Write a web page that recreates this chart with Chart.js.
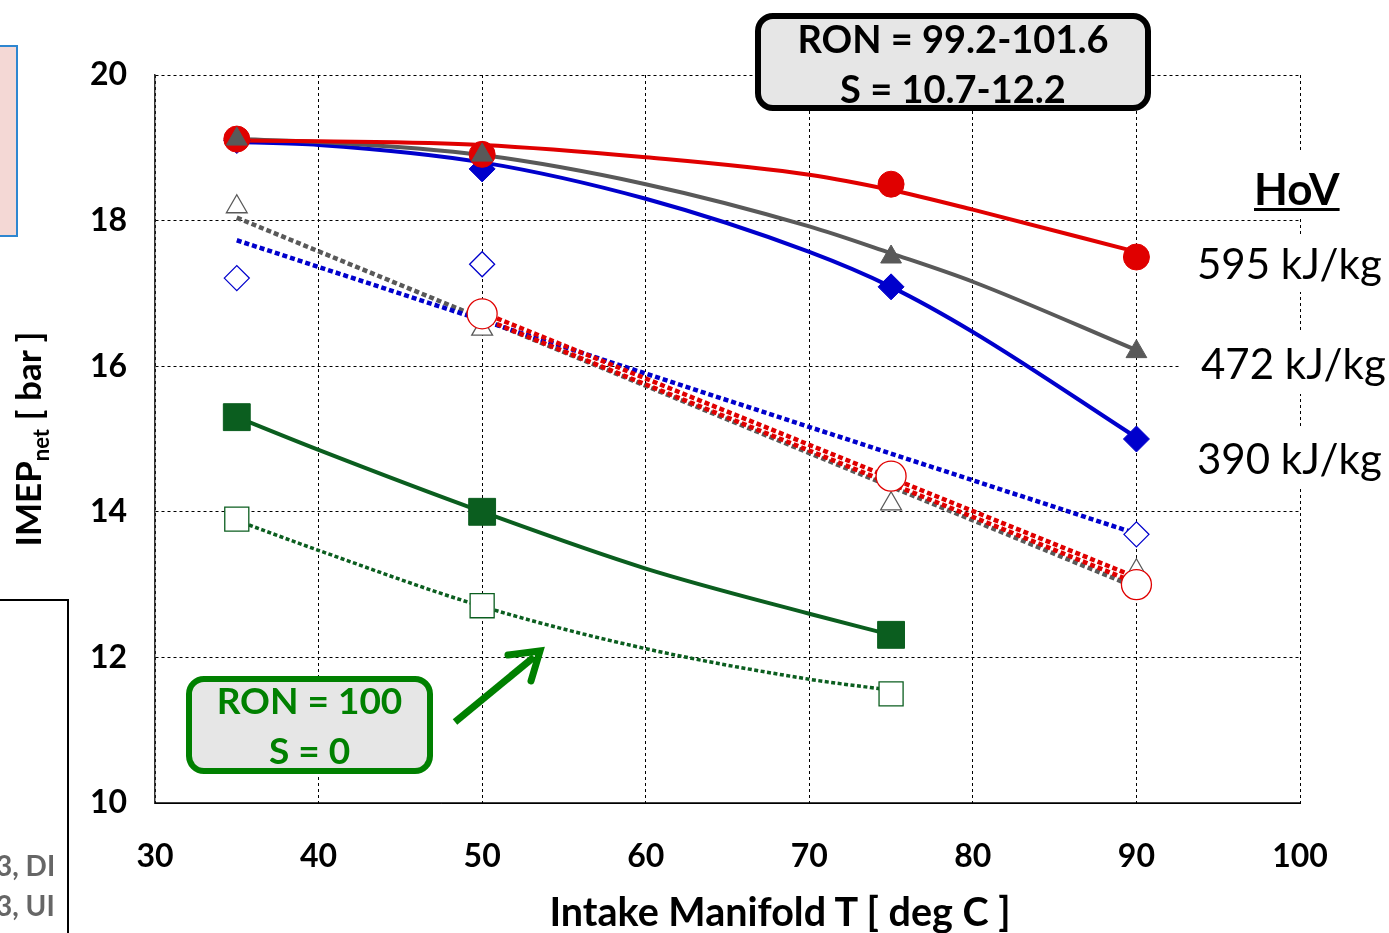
<!DOCTYPE html>
<html>
<head>
<meta charset="utf-8">
<script src="https://cdn.jsdelivr.net/npm/chart.js@4.4.1/dist/chart.umd.min.js"></script>
<style>
  html, body { margin:0; padding:0; background:#fff; }
  #wrap { position:relative; width:1389px; height:933px; overflow:hidden; font-family: Lato, "Open Sans", sans-serif; }
  #c { position:absolute; left:0; top:0; }
  .ov { position:absolute; }
  .box { box-sizing:border-box; background:#e6e6e6; border-radius:18px; text-align:center; font-weight:bold; }
  .box > div { position:relative; white-space:nowrap; }
</style>
</head>
<body>
<div id="wrap">
  <canvas id="c" width="1389" height="933"></canvas>

  <!-- partial slide elements at left -->
  <div class="ov" style="left:-10px;top:45px;width:28px;height:192px;background:#f4d8d5;border:2px solid #2e86d0;box-sizing:border-box;"></div>
  <div class="ov" style="left:-5px;top:599px;width:74px;height:340px;border-top:2px solid #000;border-right:2px solid #000;box-sizing:border-box;"></div>
  <div class="ov" style="left:-4px;top:845px;font-weight:bold;font-size:28px;color:#666;line-height:40px;white-space:nowrap;">3, DI<br>3, UI</div>

  <!-- Y axis title -->
  <div class="ov" style="left:30px;top:439px;width:0;height:0;">
    <div style="position:absolute;left:0;top:0;transform:translate(-50%,-50%) rotate(-90deg);white-space:nowrap;font-weight:bold;font-size:35px;color:#000;">IMEP<sub style="font-size:22px;">net</sub> [ bar ]</div>
  </div>

  <!-- X axis title -->
  <div class="ov" style="left:780px;top:910px;width:0;height:0;">
    <div style="position:absolute;left:0;top:0;transform:translate(-50%,-50%);white-space:nowrap;font-weight:bold;font-size:39.5px;color:#000;">Intake Manifold T [ deg C ]</div>
  </div>

  <!-- RON box -->
  <div class="ov box" style="left:755px;top:13px;width:396px;height:98px;border:6px solid #000;font-size:38px;line-height:50px;color:#000;"><div style="top:-6px;">RON = 99.2-101.6<br>S = 10.7-12.2</div></div>

  <!-- Green box -->
  <div class="ov box" style="left:186px;top:676px;width:247px;height:98px;border:6px solid #008000;font-size:37px;line-height:50px;color:#008000;"><div style="top:-7px;">RON = 100<br>S = 0</div></div>

  <!-- arrow -->
  <svg class="ov" style="left:0;top:0;" width="1389" height="933">
    <line x1="455" y1="722" x2="534" y2="657" stroke="#008000" stroke-width="7"/>
    <polyline points="508,655 540,651 531,681" fill="none" stroke="#008000" stroke-width="7" stroke-linecap="round" stroke-linejoin="miter"/>
  </svg>

  <!-- HoV labels -->
  <div class="ov" style="left:1237px;top:150px;width:115px;height:68px;background:#fff;"></div>
  <div class="ov" style="left:1254px;top:162px;font-weight:bold;font-size:44px;line-height:52px;text-decoration:underline;text-decoration-thickness:3px;text-underline-offset:3px;color:#000;">HoV</div>
  <div class="ov" style="left:1190px;top:234px;width:199px;height:58px;background:#fff;font-size:42px;line-height:58px;padding-left:7px;box-sizing:border-box;color:#000;white-space:nowrap;">595 kJ/kg</div>
  <div class="ov" style="left:1180px;top:332px;width:209px;height:62px;background:#fff;font-size:42px;line-height:62px;padding-left:21px;box-sizing:border-box;color:#000;white-space:nowrap;">472 kJ/kg</div>
  <div class="ov" style="left:1190px;top:428px;width:199px;height:60px;background:#fff;font-size:42px;line-height:60px;padding-left:7px;box-sizing:border-box;color:#000;white-space:nowrap;">390 kJ/kg</div>
</div>

<script>
// ---------- data ----------
const xTicks = [30, 40, 50, 60, 70, 80, 90, 100];
const yTicks = [10, 12, 14, 16, 18, 20];

const tempX = [35, 50, 75, 90];
// solid markers (DI)
const red595Solid  = [19.12, 18.91, 18.50, 17.50];
const gray472Solid = [19.12, 18.90, 17.50, 16.20];
const blue390Solid = [19.10, 18.71, 17.09, 15.00];
// open markers (UI)
const red595Open   = [null, 16.72, 14.49, 13.00];
const gray472Open  = [18.19, 16.51, 14.11, 13.19];
const blue390Open  = [17.21, 17.40, null, 13.69];
// RON 100, S = 0
const greenX = [35, 50, 75];
const greenSolid = [15.30, 14.00, 12.31];
const greenOpen  = [13.90, 12.71, 11.50];

// trend lines
const trendX = [35, 40, 50, 60, 70, 75, 80, 90];
const redTrend  = [19.10, 19.09, 19.04, 18.87, 18.63, 18.42, 18.15, 17.57];
const grayTrend = [19.12, 19.08, 18.90, 18.50, 17.92, 17.55, 17.16, 16.22];
const blueTrend = [19.08, 19.04, 18.80, 18.30, 17.57, 17.09, 16.47, 15.02];
const greenTrendX = [35, 40, 50, 60, 70, 75];
const greenSolidTrend = [15.30, 14.85, 14.00, 13.22, 12.60, 12.31];
const greenOpenTrend  = [13.88, 13.47, 12.70, 12.12, 11.70, 11.55];
const grayDotX = [35, 90], grayDotY = [18.04, 12.96];
const blueDotX = [35, 90], blueDotY = [17.73, 13.70];
const redDotX  = [50, 90];
const redDotUpper = [16.74, 13.10];
const redDotLower = [16.66, 13.02];

// ---------- helpers ----------
const pts = (xs, ys) => xs.map((x, i) => ({x, y: ys[i]})).filter(p => p.y !== null);
const RED = '#e00000', GRAY = '#595959', BLUE = '#0000cc', DGREEN = '#0b5e1f';

function trend(xs, ys, color, width, dash, order) {
  return { data: pts(xs, ys), showLine: true, borderColor: color, borderWidth: width,
    borderDash: dash || [], borderCapStyle: 'butt', pointRadius: 0, pointHoverRadius: 0,
    cubicInterpolationMode: 'monotone', fill: false, order };
}
function marks(xs, ys, style, r, fill, stroke, bw, order) {
  return { data: pts(xs, ys), showLine: false, pointStyle: style, pointRadius: r, pointHoverRadius: r,
    pointBackgroundColor: fill, pointBorderColor: stroke, pointBorderWidth: bw, order };
}

const datasets = [
  trend(greenTrendX, greenOpenTrend, DGREEN, 3.5, [4, 2.5], 22),
  trend(grayDotX, grayDotY, GRAY, 4.5, [5, 3], 21),
  trend(blueDotX, blueDotY, BLUE, 4.5, [5, 3], 20),
  trend(redDotX, redDotLower, RED, 4.5, [5, 3], 19),
  trend(redDotX, redDotUpper, RED, 4.5, [5, 3], 18),
  trend(greenTrendX, greenSolidTrend, DGREEN, 4, [], 17),
  trend(trendX, blueTrend, BLUE, 4, [], 16),
  trend(trendX, grayTrend, GRAY, 4, [], 15),
  trend(trendX, redTrend, RED, 4, [], 14),
  marks(tempX, gray472Open, 'triangle', 12, '#fff', GRAY, 1.3, 9),
  marks(tempX, blue390Open, 'rectRot', 12.5, '#fff', BLUE, 1.3, 8),
  marks(tempX, red595Open, 'circle', 15, '#fff', RED, 1.3, 7),
  marks(greenX, greenOpen, 'rect', 17, '#fff', DGREEN, 1.3, 6),
  marks(greenX, greenSolid, 'rect', 19, DGREEN, DGREEN, 1, 5),
  marks(tempX, blue390Solid, 'rectRot', 13, BLUE, BLUE, 1, 4),
  marks(tempX, red595Solid, 'circle', 13, RED, RED, 1, 3),
  marks(tempX, gray472Solid, 'triangle', 12, GRAY, GRAY, 1, 2),
];

const solidBottom = {
  id: 'solidBottom',
  afterDatasetsDraw(chart) {
    const {ctx, chartArea: a} = chart;
    ctx.save();
    ctx.strokeStyle = '#000';
    ctx.lineWidth = 1.5;
    ctx.setLineDash([]);
    ctx.beginPath();
    ctx.moveTo(a.left, a.bottom);
    ctx.lineTo(a.right, a.bottom);
    ctx.stroke();
    ctx.restore();
  }
};

new Chart(document.getElementById('c'), {
  type: 'scatter',
  data: { datasets },
  options: {
    responsive: false,
    animation: false,
    layout: { padding: { left: 0, right: 89, top: 75, bottom: 0 } },
    plugins: { legend: { display: false }, tooltip: { enabled: false } },
    scales: {
      x: {
        type: 'linear', min: xTicks[0], max: xTicks[xTicks.length - 1],
        afterBuildTicks: s => { s.ticks = xTicks.map(v => ({value: v})); },
        afterFit: s => { s.height = 130; },
        grid: { color: '#000', lineWidth: 1, drawTicks: false },
        border: { display: true, color: '#000', width: 1, dash: [3, 3] },
        ticks: { color: '#000', padding: 34, font: { family: 'Lato', size: 32, weight: 'bold' }, maxRotation: 0 },
        title: { display: false }
      },
      y: {
        type: 'linear', min: yTicks[0], max: yTicks[yTicks.length - 1],
        afterBuildTicks: s => { s.ticks = yTicks.map(v => ({value: v})); },
        afterFit: s => { s.width = 155; },
        grid: { color: '#000', lineWidth: 1, drawTicks: false },
        border: { display: true, color: '#333', width: 1.5, dash: [3, 3] },
        ticks: { color: '#000', padding: 28, font: { family: 'Lato', size: 32, weight: 'bold' } }
      }
    }
  },
  plugins: [solidBottom]
});
</script>
</body>
</html>
